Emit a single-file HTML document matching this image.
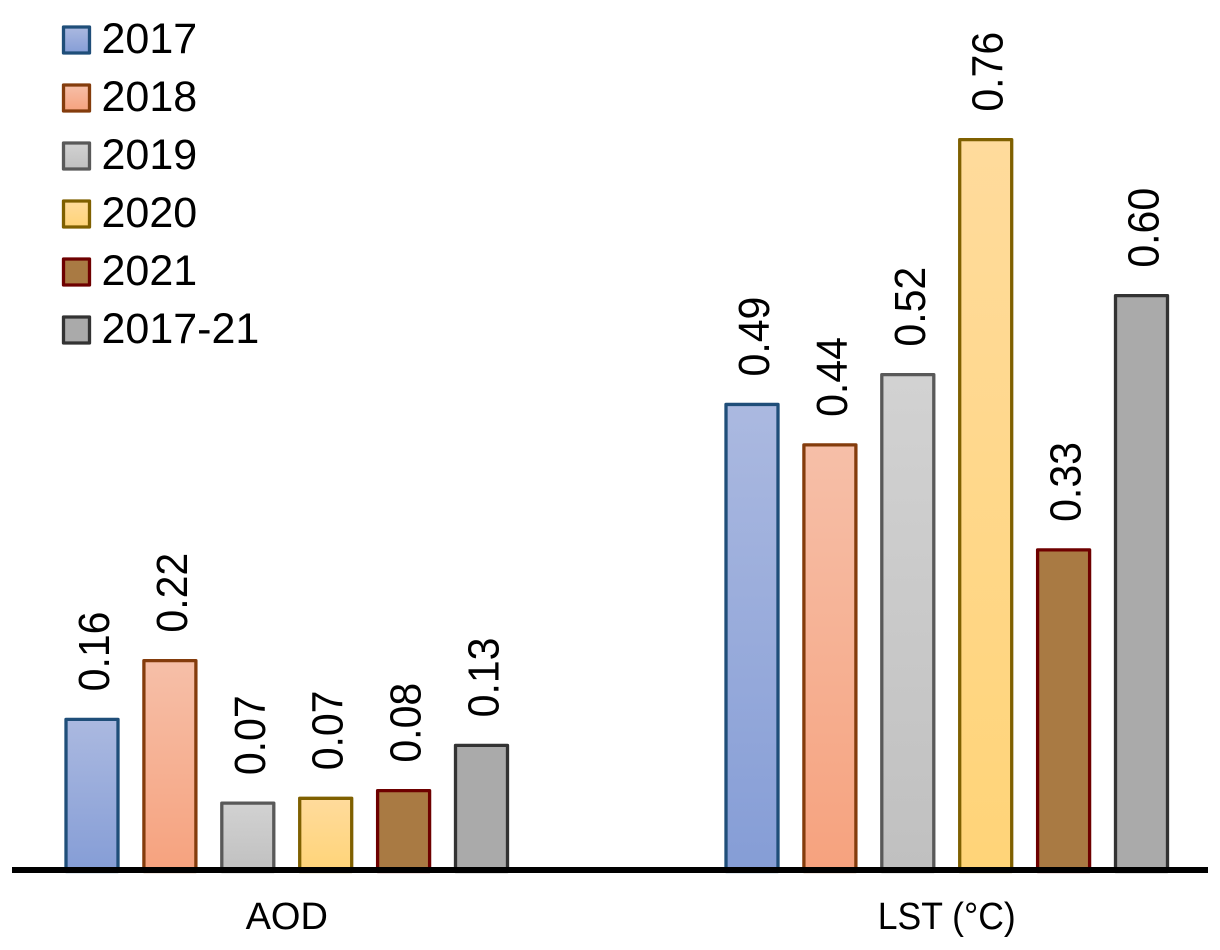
<!DOCTYPE html>
<html lang="en">
<head>
<meta charset="utf-8">
<title>AOD and LST by year</title>
<style>
  html, body { margin: 0; padding: 0; background: #fff; }
  #chart { display: block; width: 1220px; height: 950px; }
  text { font-family: "Liberation Sans", sans-serif; fill: #000; }
  .value-label { font-size: 41px; }
  .legend-label { font-size: 43px; }
  .category-label { font-size: 38px; text-anchor: middle; }
  .bar, .swatch { stroke-width: 3.3; stroke-linejoin: round; }
  .s0 { fill: url(#g0); stroke: #1f4e79; }
  .s1 { fill: url(#g1); stroke: #843c0c; }
  .s2 { fill: url(#g2); stroke: #595959; }
  .s3 { fill: url(#g3); stroke: #7f6000; }
  .s4 { fill: #a97a43; stroke: #6e0000; }
  .s5 { fill: #aaaaaa; stroke: #333333; }
</style>
</head>
<body>
<svg id="chart" xmlns="http://www.w3.org/2000/svg" width="1220" height="950" viewBox="0 0 1220 950">
  <defs>
    <linearGradient id="g0" x1="0" y1="0" x2="0" y2="1"><stop offset="0" stop-color="#abb9e0"/><stop offset="1" stop-color="#859dd6"/></linearGradient>
    <linearGradient id="g1" x1="0" y1="0" x2="0" y2="1"><stop offset="0" stop-color="#f6bfa8"/><stop offset="1" stop-color="#f6a27e"/></linearGradient>
    <linearGradient id="g2" x1="0" y1="0" x2="0" y2="1"><stop offset="0" stop-color="#d2d2d2"/><stop offset="1" stop-color="#c0c0c0"/></linearGradient>
    <linearGradient id="g3" x1="0" y1="0" x2="0" y2="1"><stop offset="0" stop-color="#ffdb9c"/><stop offset="1" stop-color="#ffd478"/></linearGradient>
  </defs>
  <g id="bars"></g>
  <g id="labels"></g>
  <g id="legend"></g>
  <line x1="12" y1="870" x2="1208" y2="870" stroke="#000" stroke-width="6"></line>
  <g id="categories"></g>
</svg>
<script>
const categories = ['AOD', 'LST (°C)'];
const seriesNames = ['2017', '2018', '2019', '2020', '2021', '2017-21'];
const aodValues = [0.158, 0.219, 0.071, 0.076, 0.084, 0.131];
const lstValues = [0.485, 0.443, 0.516, 0.760, 0.334, 0.598];
const aodLabels = ['0.16', '0.22', '0.07', '0.07', '0.08', '0.13'];
const lstLabels = ['0.49', '0.44', '0.52', '0.76', '0.33', '0.60'];

const SVG_NS = 'http://www.w3.org/2000/svg';
const baseline = 871.5;
const unitHeight = 963;
const groupStarts = [92, 752];
const barStep = 77.9;
const barWidth = 52;

function yScale(v) { return baseline - v * unitHeight; }
function xScale(group, i) { return groupStarts[group] + i * barStep; }

const barsLayer = document.getElementById('bars');
const labelsLayer = document.getElementById('labels');
const legendLayer = document.getElementById('legend');
const categoriesLayer = document.getElementById('categories');

function drawGroup(group, values, labels) {
  values.forEach(function (v, i) {
    const cx = xScale(group, i);
    const top = yScale(v);
    const bar = document.createElementNS(SVG_NS, 'rect');
    
    
    bar.setAttribute('class', 'bar s' + i);
    bar.setAttribute('x', cx - barWidth / 2);
    bar.setAttribute('y', top);
    bar.setAttribute('width', barWidth);
    bar.setAttribute('height', baseline - top);
    barsLayer.appendChild(bar);

    const label = document.createElementNS(SVG_NS, 'text');
    
    
    label.setAttribute('class', 'value-label');
    label.setAttribute('transform', 'translate(' + (cx + 17) + ',' + (top - 28) + ') rotate(-90) scale(1,1.06)');
    label.textContent = labels[i];
    labelsLayer.appendChild(label);
  });
}

drawGroup(0, aodValues, aodLabels);
drawGroup(1, lstValues, lstLabels);

seriesNames.forEach(function (name, i) {
  const rowY = 27 + i * 58;
  const swatch = document.createElementNS(SVG_NS, 'rect');
  
  
  swatch.setAttribute('class', 'swatch s' + i);
  swatch.setAttribute('x', 63.5);
  swatch.setAttribute('y', rowY);
  swatch.setAttribute('width', 26);
  swatch.setAttribute('height', 26);
  legendLayer.appendChild(swatch);

  const text = document.createElementNS(SVG_NS, 'text');
  
  
  text.setAttribute('class', 'legend-label');
  text.setAttribute('x', 101.5);
  text.setAttribute('y', rowY + 26);
  text.textContent = name;
  legendLayer.appendChild(text);
});

categories.forEach(function (name, i) {
  const text = document.createElementNS(SVG_NS, 'text');
  
  
  text.setAttribute('class', 'category-label');
  text.setAttribute('x', (xScale(i, 0) + xScale(i, 5)) / 2);
  text.setAttribute('y', 929);
  if (i === 1) {
    text.setAttribute('textLength', '138');
    text.setAttribute('lengthAdjust', 'spacingAndGlyphs');
  }
  text.textContent = name;
  categoriesLayer.appendChild(text);
});
</script>
</body>
</html>
